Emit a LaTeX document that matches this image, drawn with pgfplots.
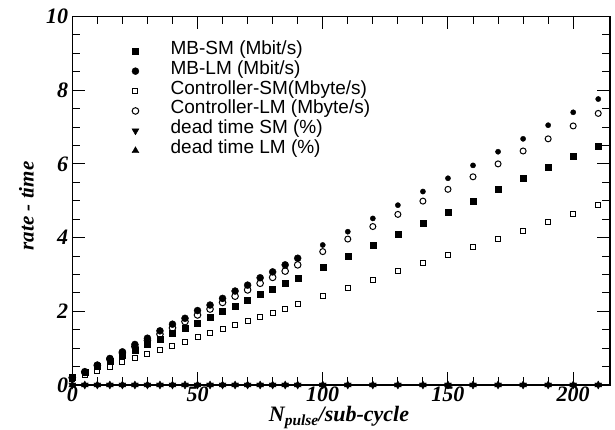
\documentclass[border=0pt]{standalone}
\usepackage{fontspec}
\setmainfont{Liberation Serif}
\setsansfont{Liberation Sans}
\usepackage{pgfplots}
\usepackage{pgfplotstable}
\pgfplotsset{compat=1.18}

% Rates and dead times, fine steps up to 90 pulses per sub-cycle
\pgfplotstableread{
x   mbsm  mblm  csm   clm   dsm  dlm
0   0.20  0.20  0.17  0.20  0    0
5   0.35  0.34  0.27  0.36  0    0
10  0.50  0.54  0.39  0.53  0    0
15  0.65  0.72  0.50  0.70  0    0
20  0.80  0.90  0.62  0.87  0    0
25  0.95  1.10  0.72  1.04  0    0
30  1.10  1.27  0.83  1.21  0    0
35  1.25  1.47  0.95  1.38  0    0
40  1.40  1.65  1.06  1.55  0    0
45  1.55  1.81  1.18  1.72  0    0
50  1.69  2.02  1.31  1.90  0    0
55  1.85  2.17  1.40  2.06  0    0
60  2.01  2.35  1.51  2.24  0    0
65  2.15  2.55  1.62  2.41  0    0
70  2.31  2.71  1.74  2.58  0    0
75  2.46  2.91  1.85  2.76  0    0
80  2.61  3.07  1.95  2.92  0    0
85  2.75  3.26  2.07  3.09  0    0
90  2.90  3.44  2.19  3.26  0    0
}\lowrange

% Coarse steps from 100 pulses per sub-cycle
\pgfplotstableread{
x   mbsm  mblm  csm   clm   dsm  dlm
100 3.21  3.80  2.42  3.62  0    0
110 3.50  4.16  2.62  3.96  0    0
120 3.80  4.52  2.85  4.30  0    0
130 4.10  4.88  3.08  4.63  0    0
140 4.39  5.25  3.30  4.99  0    0
150 4.70  5.61  3.53  5.31  0    0
160 5.00  5.96  3.75  5.65  0    0
170 5.31  6.33  3.96  6.00  0    0
180 5.60  6.68  4.19  6.35  0    0
190 5.90  7.05  4.41  6.68  0    0
200 6.20  7.40  4.65  7.03  0    0
210 6.49  7.76  4.88  7.37  0    0
}\highrange

\newcommand\tickfont{\fontsize{22}{22}\selectfont\bfseries\itshape}

\begin{document}
\begin{tikzpicture}
\begin{axis}[
  scale only axis, width=537.7pt, height=368.5pt,
  xmin=0, xmax=214.7, ymin=0, ymax=10,
  xtick={0,50,...,200}, minor x tick num=4,
  ytick={0,2,...,10}, minor y tick num=3,
  tick align=inside, major tick length=13pt, minor tick length=8pt,
  tick style={line width=1pt, black},
  axis line style={line width=1.2pt},
  every tick label/.append style={font=\tickfont},
  xticklabel style={inner sep=2pt},
  yticklabel style={inner sep=4pt},
  /pgf/number format/assume math mode=true,
  clip=false,
  xlabel={\fontsize{22}{22}\selectfont\bfseries\itshape N\textsubscript{pulse}/sub-cycle},
  xlabel style={at={(axis description cs:0.496,-0.1004)}, anchor=base, inner sep=0pt},
  ylabel={\fontsize{21}{21}\selectfont\bfseries\itshape rate - time},
  ylabel style={at={(axis description cs:-0.0855,0.486)}, anchor=center},
  legend style={at={(axis description cs:0.1078,0.9327)}, anchor=north west,
    draw=none, fill=none, inner sep=0pt, outer sep=0pt, row sep=0pt, column sep=0pt,
    font=\sffamily\fontsize{19}{19}\selectfont,
    nodes={inner sep=0pt, text height=13pt, text depth=6.9pt}},
  legend cell align=left,
  legend image code/.code={\path (-5pt,0pt) (35pt,0pt); \draw[#1] plot coordinates {(0pt,0pt)};},
]
% legend-bearing series (fine range)
\addplot[only marks, black, mark=square*, mark size=3pt] table[x=x,y=mbsm]{\lowrange};
\addlegendentry{MB-SM (Mbit/s)}
\addplot[only marks, black, mark=*, mark size=3.5pt] table[x=x,y=mblm]{\lowrange};
\addlegendentry{MB-LM (Mbit/s)}
\addplot[only marks, black, mark=square, mark size=2.5pt, mark options={line width=1pt}] table[x=x,y=csm]{\lowrange};
\addlegendentry{Controller-SM(Mbyte/s)}
\addplot[only marks, black, mark=o, mark size=3.3pt, mark options={line width=1pt}] table[x=x,y=clm]{\lowrange};
\addlegendentry{Controller-LM (Mbyte/s)}
\addplot[only marks, black, mark=triangle*, mark size=4pt, mark options={rotate=180}] table[x=x,y=dsm]{\lowrange};
\addlegendentry{dead time SM (\%)}
\addplot[only marks, black, mark=triangle*, mark size=4pt] table[x=x,y=dlm]{\lowrange};
\addlegendentry{dead time LM (\%)}
% coarse range
\addplot[forget plot, only marks, black, mark=square*, mark size=3pt] table[x=x,y=mbsm]{\highrange};
\addplot[forget plot, only marks, black, mark=*, mark size=2.6pt] table[x=x,y=mblm]{\highrange};
\addplot[forget plot, only marks, black, mark=square, mark size=2.5pt, mark options={line width=1pt}] table[x=x,y=csm]{\highrange};
\addplot[forget plot, only marks, black, mark=o, mark size=3pt, mark options={line width=1pt}] table[x=x,y=clm]{\highrange};
\addplot[forget plot, only marks, black, mark=triangle*, mark size=4pt, mark options={rotate=180}] table[x=x,y=dsm]{\highrange};
\addplot[forget plot, only marks, black, mark=triangle*, mark size=4pt] table[x=x,y=dlm]{\highrange};
\end{axis}
\path ([shift={(-72.3pt,-45pt)}]current axis.south west) rectangle ([shift={(5pt,16.5pt)}]current axis.north east);
\end{tikzpicture}
\end{document}
